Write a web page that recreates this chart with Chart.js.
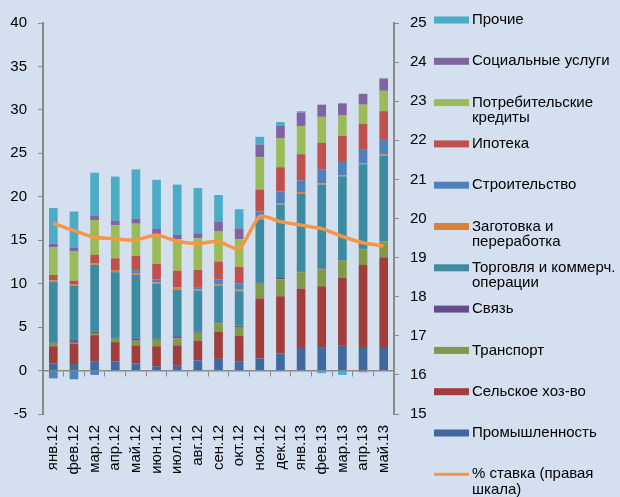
<!DOCTYPE html>
<html>
<head>
<meta charset="utf-8">
<script src="https://cdn.jsdelivr.net/npm/chart.js@4.4.1/dist/chart.umd.min.js"></script>
<style>
html, body { margin: 0; padding: 0; background: #D4DFEF; }
canvas { display: block; }
</style>
</head>
<body>
<canvas id="chart" width="620" height="497"></canvas>
<script>
const months = ['янв.12', 'фев.12', 'мар.12', 'апр.12', 'май.12', 'июн.12', 'июл.12', 'авг.12', 'сен.12',
    'окт.12', 'ноя.12', 'дек.12', 'янв.13', 'фев.13', 'мар.13', 'апр.13', 'май.13'];

// млрд, снизу вверх по стеку
const prom    = [0.8, 0.75, 1.07, 1.07, 0.8, 0.5, 0.55, 1.15, 1.35, 1.07, 1.4, 1.95, 2.6, 2.7, 2.85, 2.6, 2.6];
const selsk   = [2.0, 2.3, 3.0, 2.2, 2.1, 2.3, 2.35, 2.3, 3.15, 2.9, 6.9, 6.6, 6.8, 7.0, 7.85, 9.55, 10.45];
const transp  = [0.3, 0.15, 0.25, 0.4, 0.55, 0.75, 0.8, 0.9, 0.95, 1.05, 1.7, 1.95, 1.9, 1.95, 1.95, 1.8, 1.8];
const svyaz   = [0.1, 0.3, 0.15, 0.1, 0.25, 0.15, 0.25, 0.15, 0.1, 0.15, 0.15, 0.15, 0.1, 0.1, 0.05, 0.05, 0.05];
const torg    = [7.05, 6.25, 7.7, 7.55, 7.3, 6.3, 5.35, 4.7, 4.2, 3.95, 7.2, 8.45, 8.95, 9.65, 9.65, 9.75, 9.85];
const zagot   = [0.15, 0.15, 0.2, 0.25, 0.2, 0.15, 0.25, 0.15, 0.15, 0.2, 0.15, 0.15, 0.2, 0.15, 0.1, 0.1, 0.15];
const stroi   = [-0.9, -1.0, -0.5, 0, 0.35, 0.35, 0, 0.25, 0.6, 0.7, 0.8, 1.35, 1.35, 1.6, 1.55, 1.55, 1.65];
const ipoteka = [0.6, 0.45, 0.95, 1.35, 1.65, 1.8, 1.95, 2.0, 2.05, 1.9, 2.55, 2.8, 3.0, 3.05, 3.0, 3.0, 3.3];
const potreb  = [3.2, 3.35, 4.0, 3.8, 3.7, 3.4, 3.6, 3.65, 3.45, 3.2, 3.7, 3.35, 3.25, 3.0, 2.35, 2.2, 2.35];
const social  = [0.4, 0.45, 0.5, 0.5, 0.6, 0.65, 0.5, 0.55, 1.15, 1.25, 1.45, 1.4, 1.55, 1.4, 1.4, 1.25, 1.35];
const prochie = [4.1, 4.15, 4.95, 5.1, 5.65, 5.6, 5.8, 5.2, 3.05, 2.2, 0.9, 0.45, 0.15, -0.3, -0.5, -0.2, 0.1];
// % ставка, правая шкала
const rate    = [19.88, 19.69, 19.52, 19.48, 19.45, 19.58, 19.42, 19.36, 19.41, 19.22, 20.06, 19.92, 19.83, 19.74, 19.54, 19.38, 19.30];

const leftTicks = { min: -5, max: 40, step: 5 };
const rightTicks = { min: 15, max: 25, step: 1 };

const FONT = '"Liberation Sans", Arial, sans-serif';
const axisGray = '#898989';

function bar(label, data, color) {
    return { label: label, data: data, backgroundColor: color, borderWidth: 0, order: 1,
        categoryPercentage: 1, barPercentage: 0.42 };
}

const datasets = [
    bar('Промышленность', prom, '#40699F'),
    bar('Сельское хоз-во', selsk, '#A03E3C'),
    bar('Транспорт', transp, '#809A47'),
    bar('Связь', svyaz, '#674C8C'),
    bar('Торговля и коммерч.\nоперации', torg, '#3C8BA1'),
    bar('Заготовка и\nпереработка', zagot, '#D9813A'),
    bar('Строительство', stroi, '#4F81BD'),
    bar('Ипотека', ipoteka, '#C0504D'),
    bar('Потребительские\nкредиты', potreb, '#9BBB59'),
    bar('Социальные услуги', social, '#8064A2'),
    bar('Прочие', prochie, '#4BACC6'),
    {
        type: 'line', label: '% ставка (правая\nшкала)', data: rate, yAxisID: 'y2', order: 0,
        borderColor: '#F79646', backgroundColor: '#F79646', borderWidth: 3.5,
        pointRadius: 0, tension: 0.2, fill: false
    }
];

const background = {
    id: 'background',
    beforeDraw(chart) {
        const ctx = chart.ctx;
        ctx.save();
        ctx.fillStyle = '#D4DFEF';
        ctx.fillRect(0, 0, chart.width, chart.height);
        ctx.restore();
    }
};

// легенда справа, поверх подписей правой оси
const sideLegend = {
    id: 'sideLegend',
    afterDraw(chart) {
        const ctx = chart.ctx;
        const all = chart.data.datasets;
        const items = all.filter(d => d.type !== 'line').reverse().concat(all.filter(d => d.type === 'line'));
        ctx.save();
        ctx.font = '15px ' + FONT;
        ctx.textBaseline = 'middle';
        items.forEach((ds, i) => {
            const y = 20 + 41.3 * i;
            const h = ds.type === 'line' ? 3 : 7;
            ctx.fillStyle = ds.type === 'line' ? ds.borderColor : ds.backgroundColor;
            ctx.fillRect(434, y - h / 2, 35, h);
            ctx.fillStyle = '#000';
            ds.label.split('\n').forEach((line, j) => ctx.fillText(line, 472, y + j * 15.5));
        });
        ctx.restore();
    }
};

Chart.defaults.font.family = FONT;
Chart.defaults.font.size = 15;
Chart.defaults.color = '#000';

new Chart(document.getElementById('chart'), {
    type: 'bar',
    data: { labels: months, datasets: datasets },
    options: {
        responsive: false,
        animation: false,
        layout: { padding: { top: 23, right: 186, left: 0, bottom: 0 } },
        plugins: { legend: { display: false }, tooltip: { enabled: false } },
        scales: {
            x: {
                stacked: true,
                position: { y: 0 },
                ticks: { display: false },
                grid: { display: true, drawOnChartArea: false, drawTicks: true, tickLength: 5, color: axisGray, offset: true },
                border: { display: true, color: axisGray, width: 1.5 }
            },
            x2: {
                type: 'category',
                position: 'bottom',
                offset: true,
                grid: { display: false, drawTicks: false },
                border: { display: false },
                ticks: { autoSkip: false, minRotation: 90, maxRotation: 90, padding: 11, font: { size: 15 } },
                afterFit(scale) { scale.height = 83; }
            },
            y: {
                stacked: true,
                position: 'left',
                min: leftTicks.min, max: leftTicks.max,
                ticks: { stepSize: leftTicks.step, padding: 11 },
                grid: { display: true, drawOnChartArea: false, tickLength: 5, color: axisGray },
                border: { display: true, color: axisGray, width: 2 },
                afterFit(scale) { scale.width = 43; }
            },
            y2: {
                position: 'right',
                min: rightTicks.min, max: rightTicks.max,
                ticks: { stepSize: rightTicks.step, padding: 11 },
                grid: { display: true, drawOnChartArea: false, tickLength: 5, color: axisGray },
                border: { display: true, color: axisGray, width: 2 },
                afterFit(scale) { scale.width = 40; }
            }
        }
    },
    plugins: [background, sideLegend]
});
</script>
</body>
</html>
